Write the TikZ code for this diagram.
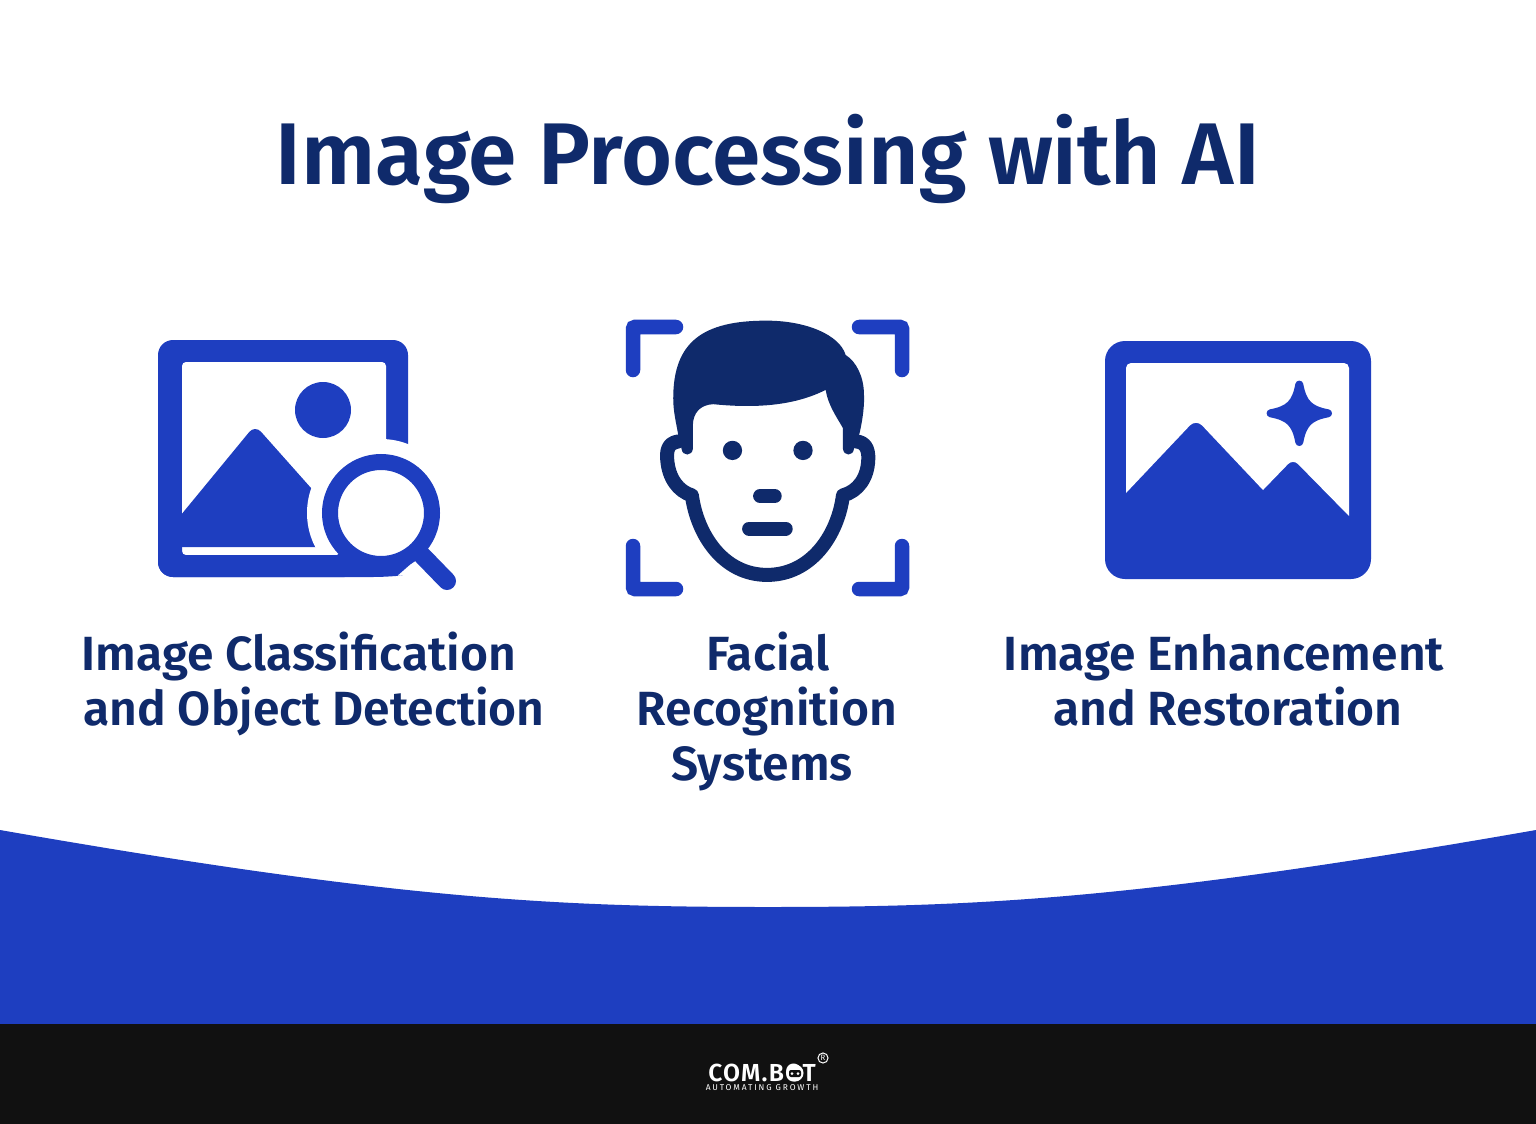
\documentclass[tikz,border=0pt]{standalone}
\usepackage{fontspec}
\setmainfont{Fira Sans}[BoldFont={Fira Sans SemiBold}]
\usetikzlibrary{positioning}
\definecolor{iconblue}{HTML}{1E3EC0}
\definecolor{facenavy}{HTML}{0F2A6B}
\definecolor{footerblack}{HTML}{111111}

\begin{document}
\begin{tikzpicture}[
  x=0.01cm, y=-0.01cm,
  heading/.style={anchor=base, inner sep=0pt, text=facenavy, font=\fontsize{24.9}{30}\selectfont\bfseries},
  caption/.style={anchor=base, inner sep=0pt, text=facenavy, font=\fontsize{13.65}{16}\selectfont\bfseries},
  corner/.style={draw=iconblue, line width=0.145cm, line cap=round, rounded corners=0.02cm},
  outline/.style={draw=facenavy, line width=0.14cm, line cap=round, line join=round},
  logo/.style={anchor=base, inner sep=0pt, text=white}
]
\useasboundingbox (0,0) rectangle (1536,1124);
\fill[white] (0,0) rectangle (1536,1124);

% Band and footer
\fill[iconblue] (0,830) .. controls (400,900) and (560,907) .. (768,907) .. controls (976,907) and (1136,900) .. (1536,830) -- (1536,1030) -- (0,1030) -- cycle;
\fill[footerblack] (0,1024) rectangle (1536,1124);

% Title
\node[heading] (Title) at (768,184) {Image Processing with AI};

% Classification icon
\fill[iconblue, rounded corners=0.15cm] (158,340) rectangle (408,577);
\fill[white, rounded corners=0.04cm] (182,362) rectangle (386,555);
\fill[iconblue] (323,410) circle (28);
\fill[iconblue] (176,521) -- (176,547) -- (345,547) -- (345,526) -- (311,488) [rounded corners=0.09cm] -- (255,425) -- cycle;
\fill[white] (381,513) circle (74);
\fill[iconblue, rounded corners=0.15cm] (158,540) -- (158,577) -- (388,577) [sharp corners] -- (397,576) -- (413,562) -- (390,520) -- (337,555) -- (182,555) -- (182,540) -- cycle;
\draw[iconblue, line width=0.18cm, line cap=round] (381,513) -- (447,581);
\draw[iconblue, fill=white, line width=0.16cm] (381,513) circle (51);

% Face icon
\draw[corner] (633,370) -- (633,327) -- (676,327);
\draw[corner] (859,327) -- (902,327) -- (902,370);
\draw[corner] (633,546) -- (633,589) -- (676,589);
\draw[corner] (859,589) -- (902,589) -- (902,546);
\begin{scope}[shift={(610,305)}, x=0.00333cm, y=-0.00333cm]
  \draw[outline] (205,410) .. controls (172,415) and (170,440) .. (172,465) .. controls (176,520) and (205,560) .. (246,572) .. controls (262,690) and (340,811) .. (472,811) .. controls (605,811) and (685,690) .. (700,572) .. controls (745,560) and (774,520) .. (776,465) .. controls (778,430) and (765,412) .. (740,410);
  \fill[facenavy] (470,47) .. controls (280,47) and (190,110) .. (190,280) .. controls (190,320) and (198,350) .. (205,390) -- (215,432) .. controls (217,455) and (247,455) .. (249,432) -- (249,360) .. controls (250,325) and (270,300) .. (310,298) .. controls (430,310) and (550,305) .. (648,255) .. controls (655,300) and (680,335) .. (700,370) -- (700,432) .. controls (702,455) and (731,455) .. (733,432) -- (750,385) .. controls (760,340) and (765,300) .. (763,265) .. controls (762,215) and (740,170) .. (708,150) .. controls (690,90) and (590,47) .. (470,47) -- cycle;
  \fill[facenavy] (368,437) circle (29);
  \fill[facenavy] (580,437) circle (29);
  \draw[outline] (451,574) -- (495,574);
  \draw[outline] (418,672) -- (528,672);
\end{scope}

% Enhancement icon
\fill[iconblue, rounded corners=0.2cm] (1105,341) rectangle (1371,579);
\fill[white, rounded corners=0.05cm] (1126,493) -- (1126,363) -- (1349,363) [sharp corners] -- (1349,516) [rounded corners=0.07cm] -- (1293,459) [sharp corners] -- (1263,490) [rounded corners=0.09cm] -- (1196,419) [sharp corners] -- cycle;
\draw[iconblue, fill=iconblue, line width=0.08cm, line join=round] (1299.3,384.6) .. controls (1302.8,403.3) and (1309.3,409.8) .. (1328,413.3) .. controls (1309.3,416.8) and (1302.8,423.3) .. (1299.3,442) .. controls (1295.8,423.3) and (1289.3,416.8) .. (1270.6,413.3) .. controls (1289.3,409.8) and (1295.8,403.3) .. cycle;

% Captions
\node[caption] (ClassTop) at (299,670) {Image Classification};
\node[caption] (ClassBottom) at (314,725) {and Object Detection};
\node[caption] (FaceTop) at (768,670) {Facial};
\node[caption] (FaceMiddle) at (767,725) {Recognition};
\node[caption] (FaceBottom) at (762,780) {Systems};
\node[caption] (EnhanceTop) at (1224,670) {Image Enhancement};
\node[caption] (EnhanceBottom) at (1228,725) {and Restoration};

% Logo
\node[logo, font=\fontsize{7}{8}\selectfont\bfseries\addfontfeature{LetterSpace=5}] (LogoName) at (762,1081) {COM.BOT};
\node[logo, font=\fontsize{2.4}{3}\selectfont\addfontfeature{LetterSpace=22}] (LogoSlogan) at (762,1090) {AUTOMATING GROWTH};
\node[circle, draw=white, line width=0.01cm, inner sep=0.3pt, text=white, font=\fontsize{2.2}{3}\selectfont] (LogoMark) at (823,1058) {R};
\fill[white] (795,1073) circle (8.5);
\fill[footerblack, rounded corners=0.02cm] (789,1070) rectangle (801,1077);
\fill[white] (792,1073.5) circle (1.5);
\fill[white] (798,1073.5) circle (1.5);

\end{tikzpicture}
\end{document}
